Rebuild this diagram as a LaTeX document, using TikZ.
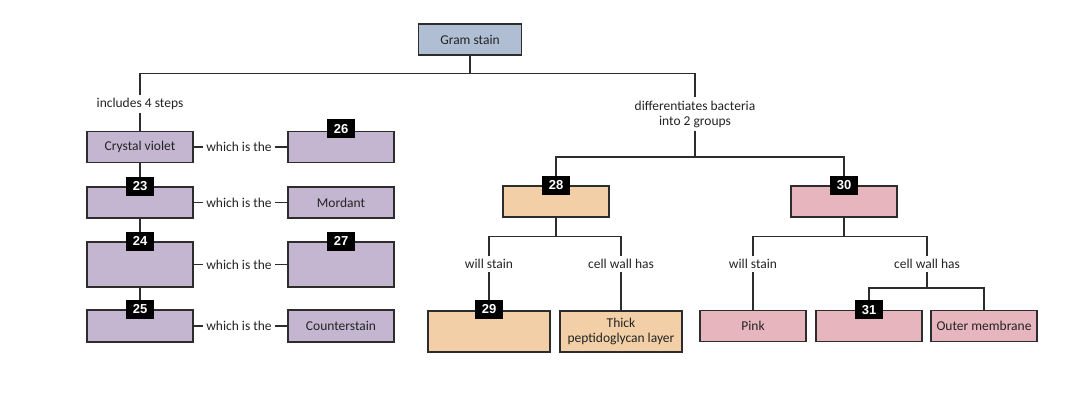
\documentclass[tikz,border=0pt]{standalone}
\usepackage{fontspec}
\setmainfont{Carlito}
\newfontfamily\badgefamily{Liberation Sans}
\usetikzlibrary{calc}

\definecolor{gramblue}{RGB}{176,190,212}
\definecolor{stepviolet}{RGB}{196,182,208}
\definecolor{posorange}{RGB}{242,207,166}
\definecolor{negpink}{RGB}{231,181,189}
\definecolor{linegray}{RGB}{45,45,45}
\definecolor{textgray}{RGB}{35,35,35}

\begin{document}
\begin{tikzpicture}[x=1pt, y=-1pt,
  box/.style={draw=linegray, line width=1.5pt, inner sep=0pt, align=center,
    minimum width=106, minimum height=31, text=textgray,
    font=\fontsize{13.5}{14.5}\selectfont},
  num/.style={fill=black, text=white, inner sep=0pt, minimum width=28,
    minimum height=19, font=\badgefamily\bfseries\fontsize{13}{13}\selectfont},
  lbl/.style={inner sep=3pt, text=textgray, align=center,
    font=\fontsize{13.5}{15}\selectfont},
  conn/.style={draw=linegray, line width=1.3pt}]

\useasboundingbox (0,0) rectangle (1078,414);

% Top box
\node[box, fill=gramblue, minimum width=103] (gram) at (470,39.5) {Gram stain};

% Left column: the 4 steps
\node[box, fill=stepviolet] (cv) at (140,147) {Crystal violet};
\node[box, fill=stepviolet] (b23) at (140,202.5) {};
\node[box, fill=stepviolet, minimum height=45] (b24) at (140,264.5) {};
\node[box, fill=stepviolet, minimum height=32] (b25) at (140,326) {};

\node[box, fill=stepviolet] (b26) at (341,147) {};
\node[box, fill=stepviolet] (mord) at (341,202.5) {Mordant};
\node[box, fill=stepviolet, minimum height=45] (b27) at (341,264.5) {};
\node[box, fill=stepviolet, minimum height=32] (cs) at (341,326) {Counterstain};

% Labels on the left
\node[lbl] (steps) at (140,104) {includes 4 steps};
\node[lbl] (w1) at (239,147) {which is the};
\node[lbl] (w2) at (239,202.5) {which is the};
\node[lbl] (w3) at (239,264.5) {which is the};
\node[lbl] (w4) at (239,326) {which is the};

% Right side: the 2 groups
\node[lbl] (diff) at (695,114) {differentiates bacteria\\into 2 groups};
\node[box, fill=posorange] (b28) at (556,201.5) {};
\node[box, fill=negpink] (b30) at (844,201.5) {};

\node[lbl] (ws1) at (489,264) {will stain};
\node[lbl] (cw1) at (621,264) {cell wall has};
\node[box, fill=posorange, minimum width=122, minimum height=41] (b29) at (489,331.5) {};
\node[box, fill=posorange, minimum width=122, minimum height=41] (thick) at (621,331.5)
  {Thick\\peptidoglycan layer};

\node[lbl] (ws2) at (753,264) {will stain};
\node[lbl] (cw2) at (927,264) {cell wall has};
\node[box, fill=negpink] (pink) at (753,326) {Pink};
\node[box, fill=negpink] (b31) at (869,326) {};
\node[box, fill=negpink] (outer) at (984,326) {Outer membrane};

% Junction points
\coordinate (gsplit) at ($(gram.south)+(0,18)$);
\coordinate (dsplit) at (695,157);
\coordinate (s28) at ($(b28.south)+(0,19)$);
\coordinate (s30) at ($(b30.south)+(0,19)$);
\coordinate (s31) at (927,288);

% Connectors from the top
\draw[conn] (gram.south) -- (gsplit);
\draw[conn] (steps.north) |- (gsplit) -| (diff.north);
\draw[conn] (steps.south) -- (cv.north);

% Connectors between the steps
\draw[conn] (cv.south) -- (b23.north);
\draw[conn] (b23.south) -- (b24.north);
\draw[conn] (b24.south) -- (b25.north);

\draw[conn] (cv.east) -- (w1.west) (w1.east) -- (b26.west);
\draw[conn] (b23.east) -- (w2.west) (w2.east) -- (mord.west);
\draw[conn] (b24.east) -- (w3.west) (w3.east) -- (b27.west);
\draw[conn] (b25.east) -- (w4.west) (w4.east) -- (cs.west);

% Connectors to the 2 groups
\draw[conn] (diff.south) -- (dsplit);
\draw[conn] (b28.north) |- (dsplit) -| (b30.north);

\draw[conn] (b28.south) -- (s28);
\draw[conn] (ws1.north) |- (s28) -| (cw1.north);
\draw[conn] (ws1.south) -- (b29.north);
\draw[conn] (cw1.south) -- (thick.north);

\draw[conn] (b30.south) -- (s30);
\draw[conn] (ws2.north) |- (s30) -| (cw2.north);
\draw[conn] (ws2.south) -- (pink.north);
\draw[conn] (cw2.south) -- (s31);
\draw[conn] (b31.north) |- (s31) -| (outer.north);

% Number badges
\node[num] (n23) at (b23.north) {23};
\node[num] (n24) at (b24.north) {24};
\node[num] (n25) at (b25.north) {25};
\node[num] (n26) at ($(b26.north)+(0,-2)$) {26};
\node[num] (n27) at (b27.north) {27};
\node[num] (n28) at (b28.north) {28};
\node[num] (n29) at ($(b29.north)+(0,-1)$) {29};
\node[num] (n30) at (b30.north) {30};
\node[num] (n31) at (b31.north) {31};

\end{tikzpicture}
\end{document}
